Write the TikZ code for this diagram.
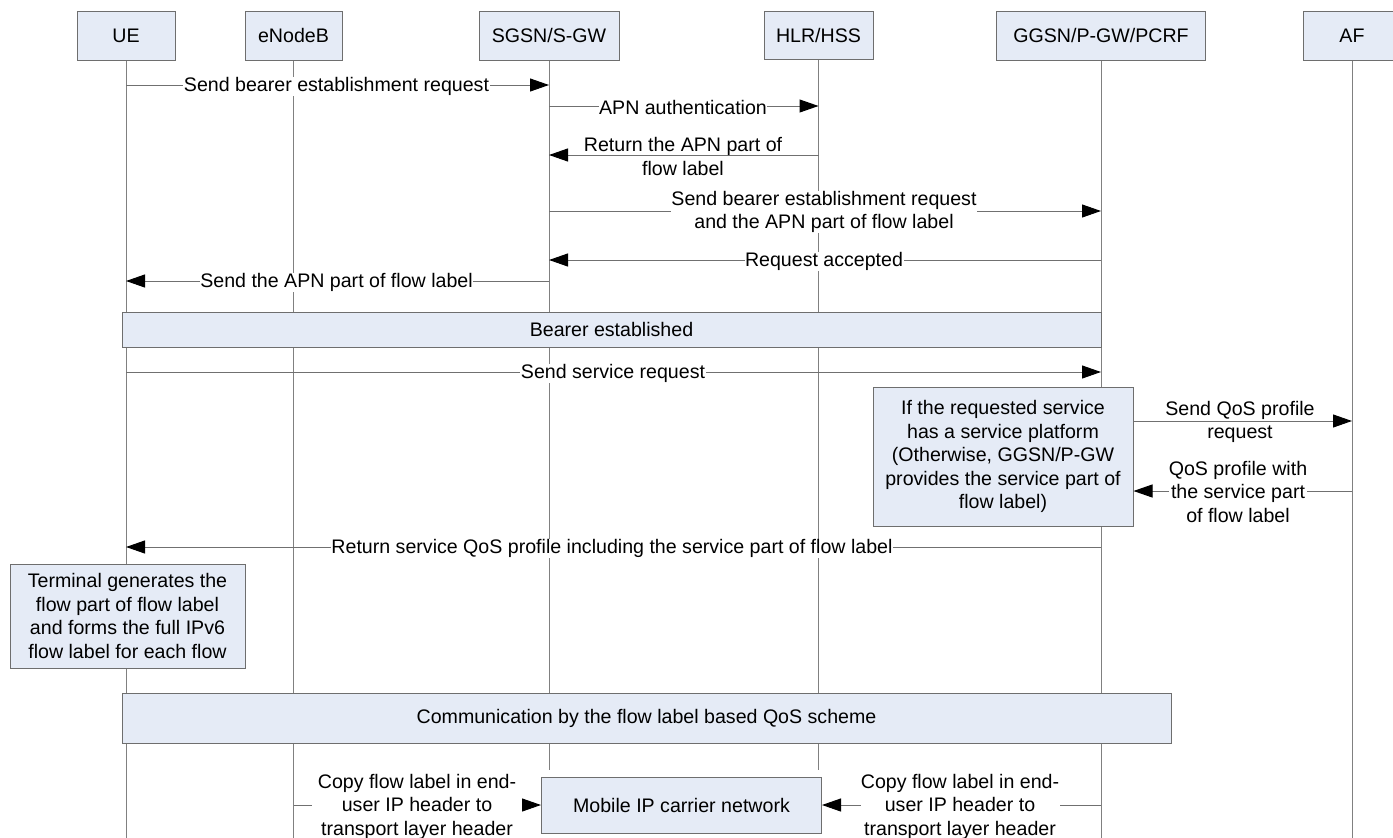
\documentclass[tikz,border=0pt]{standalone}
\usepackage{fontspec}
\setmainfont{Liberation Sans}
\usetikzlibrary{arrows.meta}
\definecolor{boxfill}{HTML}{E5EBF6}
\definecolor{boxline}{HTML}{6E6E6E}
\definecolor{lifeline}{HTML}{808080}
\definecolor{msgline}{HTML}{707070}
\newcommand{\fs}{\fontsize{19.6pt}{23.5pt}\selectfont}
\begin{document}
\begin{tikzpicture}[x=1pt,y=-1pt,
  actor/.style={draw=boxline, fill=boxfill, line width=1pt, inner sep=0pt, font=\fs, minimum height=49pt},
  note/.style={draw=boxline, fill=boxfill, line width=1pt, inner sep=0pt, font=\fs, align=center},
  life/.style={draw=lifeline, line width=1pt},
  msg/.style={draw=msgline, line width=1pt, -{Triangle[length=19pt,width=13pt,fill=black,color=black]}},
  lbl/.style={fill=white, inner sep=0.5pt, align=center, font=\fs, yshift=-1.5pt},
  lbln/.style={inner sep=0pt, align=center, font=\fs, yshift=-1.5pt}
]
\useasboundingbox (0,0) rectangle (1393,838);
\fill[white] (0,0) rectangle (1393,838);

% lifeline end coordinates
\coordinate (ueE) at (126,838);
\coordinate (enbE) at (293.5,838);
\coordinate (sgsnE) at (549,770);
\coordinate (hlrE) at (818.5,770);
\coordinate (ggsnE) at (1101,838);
\coordinate (afE) at (1352,838);

% actors
\node[actor, minimum width=98pt] (ue) at (126,35.5) {UE};
\node[actor, minimum width=97pt] (enb) at (293.5,35.5) {eNodeB};
\node[actor, minimum width=140pt] (sgsn) at (549,35.5) {SGSN/S-GW};
\node[actor, minimum width=109pt, minimum height=48pt] (hlr) at (818.5,35) {HLR/HSS};
\node[actor, minimum width=209pt] (ggsn) at (1101,35.5) {GGSN/P-GW/PCRF};
\node[actor, minimum width=98pt] (af) at (1352,35.5) {AF};

% lifelines
\draw[life] (ue.south) -- (ueE);
\draw[life] (enb.south) -- (enbE);
\draw[life] (sgsn.south) -- (sgsnE);
\draw[life] (hlr.south) -- (hlrE);
\draw[life] (ggsn.south) -- (ggsnE);
\draw[life] (af.south) -- (afE);

% messages
\coordinate (m1a) at (126,85); \coordinate (m1b) at (549,85);
\draw[msg] (m1a) -- (m1b);
\node[lbl] (l1) at (336.5,85) {Send bearer establishment request};

\coordinate (m2a) at (549,106); \coordinate (m2b) at (818.5,106);
\draw[msg] (m2a) -- (m2b);
\node[lbl] (l2) at (683,106) {APN authentication};

\coordinate (m3a) at (818.5,155); \coordinate (m3b) at (549,155);
\draw[msg] (m3a) -- (m3b);
\node[lbln] (l3) at (683,155) {Return the APN part of\\flow label};

\coordinate (m4a) at (549,211); \coordinate (m4b) at (1101,211);
\draw[msg] (m4a) -- (m4b);
\node[lbl] (l4) at (824,210.5) {Send bearer establishment request\\and the APN part of flow label};

\coordinate (m5a) at (1101,260); \coordinate (m5b) at (549,260);
\draw[msg] (m5a) -- (m5b);
\node[lbl] (l5) at (824,260) {Request accepted};

\coordinate (m6a) at (549,281); \coordinate (m6b) at (126,281);
\draw[msg] (m6a) -- (m6b);
\node[lbl] (l6) at (336.5,281) {Send the APN part of flow label};

\node[note, minimum width=979pt, minimum height=35pt] (bearer) at (611.5,329.5) {Bearer established};

\coordinate (m7a) at (126,372); \coordinate (m7b) at (1101,372);
\draw[msg] (m7a) -- (m7b);
\node[lbl] (l7) at (613,372) {Send service request};

\node[note, minimum width=260pt, minimum height=139pt] (plat) at (1003,456.5) {If the requested service\\has a service platform\\(Otherwise, GGSN/P-GW\\provides the service part of\\flow label)};

\coordinate (m8b) at (1352,421);
\draw[msg] (plat.east |- m8b) -- (m8b);
\node[lbln] (l8) at (1240,420.5) {Send QoS profile\\request};

\coordinate (m9a) at (1352,491);
\draw[msg] (m9a) -- (plat.east |- m9a);
\node[lbl, inner sep=0pt] (l9) at (1238,490) {QoS profile with\\the service part\\of flow label};

\coordinate (m10a) at (1101,547); \coordinate (m10b) at (126,547);
\draw[msg] (m10a) -- (m10b);
\node[lbl] (l10) at (612,547) {Return service QoS profile including the service part of flow label};

\node[note, minimum width=235pt, minimum height=104pt] (term) at (127.5,616) {Terminal generates the\\flow part of flow label\\and forms the full IPv6\\flow label for each flow};

\node[note, minimum width=1049pt, minimum height=50pt] (comm) at (646.5,718) {Communication by the flow label based QoS scheme};

\node[note, minimum width=280pt, minimum height=56pt] (carrier) at (681.5,805) {Mobile IP carrier network};

\coordinate (c1a) at (293.5,805);
\draw[msg] (c1a) -- (carrier.west);
\node[lbl, minimum width=210pt, inner sep=0pt] (lc1) at (417,805) {Copy flow label in end-\\user IP header to\\transport layer header};

\coordinate (c2a) at (1101,805);
\draw[msg] (c2a) -- (carrier.east);
\node[lbl, minimum width=199pt, inner sep=0pt] (lc2) at (960,805) {Copy flow label in end-\\user IP header to\\transport layer header};
\end{tikzpicture}
\end{document}
